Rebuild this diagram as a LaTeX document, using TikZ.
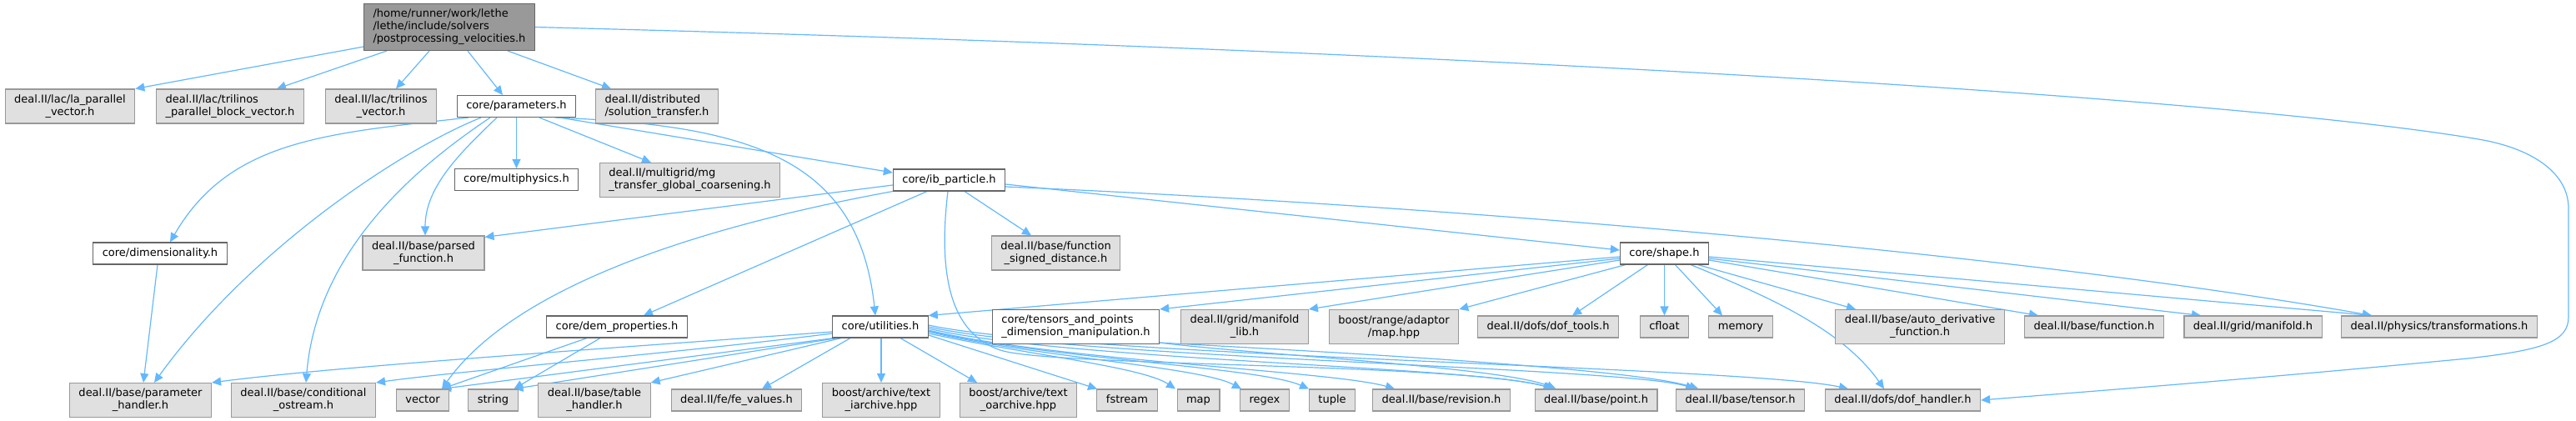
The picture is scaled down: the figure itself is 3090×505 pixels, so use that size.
\documentclass[tikz,border=0pt]{standalone}
\usepackage{fontspec}
\setmainfont{DejaVu Sans}
\usetikzlibrary{arrows.meta,backgrounds}
\definecolor{edgec}{HTML}{63B8FF}
\definecolor{gfill}{HTML}{E0E0E0}
\definecolor{gdraw}{HTML}{999999}
\definecolor{wdraw}{HTML}{666666}
\definecolor{rfill}{HTML}{999999}
\begin{document}
\begin{tikzpicture}[x=1pt,y=-1pt,
 box/.style={draw, line width=1.1pt, inner xsep=11pt, inner ysep=0pt, minimum height=26pt, font=\fontsize{13}{15}\selectfont, align=center, text=black},
 sl/.style={text height=9.5pt, text depth=3pt},
 tall/.style={minimum height=41pt},
 g1/.style={box, fill=gfill, draw=gdraw, sl},
 g2/.style={box, fill=gfill, draw=gdraw, tall},
 w1/.style={box, fill=white, draw=wdraw, sl},
 w2/.style={box, fill=white, draw=wdraw, tall},
 rbox/.style={box, fill=rfill, draw=wdraw, align=left, minimum height=56pt},
 lal/.style={align=left},
 arr/.style={draw=edgec, line width=1.2pt, -{Triangle[length=11pt,width=10pt]}}
]
\useasboundingbox (0,0) rectangle (3090,505);
% row 0
\node[rbox] (root) at (539,32.5) {/home/runner/work/lethe\\/lethe/include/solvers\\/postprocessing\_velocities.h};
% row 1
\node[g2] (lapar) at (84,127.5) {deal.II/lac/la\_parallel\\\_vector.h};
\node[g2,lal] (tripbv) at (276,127.5) {deal.II/lac/trilinos\\\_parallel\_block\_vector.h};
\node[g2] (trivec) at (457,127.5) {deal.II/lac/trilinos\\\_vector.h};
\node[w1] (params) at (619.5,127.5) {core/parameters.h};
\node[g2,lal] (soltrans) at (788,127.5) {deal.II/distributed\\/solution\_transfer.h};
% row 2
\node[w1] (multiph) at (619.5,215.5) {core/multiphysics.h};
\node[g2,lal] (mgtrans) at (827.5,216) {deal.II/multigrid/mg\\\_transfer\_global\_coarsening.h};
\node[w1] (ibpart) at (1138.5,216) {core/ib\_particle.h};
% row 3
\node[w1] (dimens) at (192,304) {core/dimensionality.h};
\node[g2] (parsedfn) at (508,303.5) {deal.II/base/parsed\\\_function.h};
\node[g2] (fsd) at (1266.5,303.5) {deal.II/base/function\\\_signed\_distance.h};
\node[w1] (shape) at (1996.5,304) {core/shape.h};
% row 4
\node[w1] (dem) at (740,392) {core/dem\_properties.h};
\node[w1] (utils) at (1056,392) {core/utilities.h};
\node[w2,lal] (tensdim) at (1290.5,392) {core/tensors\_and\_points\\\_dimension\_manipulation.h};
\node[g2] (manlib) at (1493,392) {deal.II/grid/manifold\\\_lib.h};
\node[g2] (rangemap) at (1672,392) {boost/range/adaptor\\/map.hpp};
\node[g1] (doftools) at (1857,392) {deal.II/dofs/dof\_tools.h};
\node[g1] (cfloat) at (1996.5,392) {cfloat};
\node[g1] (memory) at (2088,392) {memory};
\node[g2] (autoder) at (2303,392) {deal.II/base/auto\_derivative\\\_function.h};
\node[g1] (funch) at (2512,392) {deal.II/base/function.h};
\node[g1] (gridman) at (2702.5,392) {deal.II/grid/manifold.h};
\node[g1] (transf) at (2926,392) {deal.II/physics/transformations.h};
% row 5
\node[g2] (parhand) at (168.5,480) {deal.II/base/parameter\\\_handler.h};
\node[g2] (condos) at (364,480) {deal.II/base/conditional\\\_ostream.h};
\node[g1] (vector) at (507,480) {vector};
\node[g1] (string) at (591.5,480) {string};
\node[g2] (tablehand) at (713,480) {deal.II/base/table\\\_handler.h};
\node[g1] (fevalues) at (883.5,480) {deal.II/fe/fe\_values.h};
\node[g2] (iarch) at (1057,480) {boost/archive/text\\\_iarchive.hpp};
\node[g2] (oarch) at (1221.5,480) {boost/archive/text\\\_oarchive.hpp};
\node[g1] (fstream) at (1352,480) {fstream};
\node[g1] (map) at (1437.5,480) {map};
\node[g1] (regex) at (1517,480) {regex};
\node[g1] (tuple) at (1598,480) {tuple};
\node[g1] (revision) at (1729,480) {deal.II/base/revision.h};
\node[g1] (point) at (1914.5,480) {deal.II/base/point.h};
\node[g1] (tensor) at (2087.5,480) {deal.II/base/tensor.h};
\node[g1] (dofh) at (2282.5,480) {deal.II/dofs/dof\_handler.h};

\begin{scope}[on background layer]
% root edges
\draw[arr] ([yshift=5pt]root.south west) -- (lapar.north east);
\draw[arr] ([xshift=-75pt]root.south) -- ([xshift=56pt]tripbv.north);
\draw[arr] ([xshift=-24pt]root.south) -- ([xshift=18pt]trivec.north);
\draw[arr] ([xshift=22pt]root.south) -- ([xshift=-16.5pt]params.north);
\draw[arr] ([xshift=70pt]root.south) -- ([xshift=-55pt]soltrans.north);
\draw[arr] (root.east) .. controls (1800,62) and (2700,120) .. (2973,167) .. controls (3033,177) and (3081,205) .. (3081,250) -- (3081,380) .. controls (3081,410) and (3050,420) .. (2960,430) .. controls (2700,455) and (2500,470) .. (dofh.east);
% params edges
\draw[arr] ([xshift=-57.5pt]params.south) .. controls (390,160) and (275,168) .. ([xshift=12pt]dimens.north);
\draw[arr] ([xshift=-42.5pt]params.south) .. controls (480,180) and (300,300) .. ([xshift=16.5pt]parhand.north);
\draw[arr] ([xshift=-31.5pt]params.south) .. controls (500,200) and (380,300) .. ([xshift=3pt]condos.north);
\draw[arr] ([xshift=-23.5pt]params.south) .. controls (550,185) and (510,225) .. ([xshift=2pt]parsedfn.north);
\draw[arr] (params) -- (multiph);
\draw[arr] ([xshift=27.5pt]params.south) -- ([xshift=-46.5pt]mgtrans.north);
\draw[arr] ([xshift=52pt]params.south) -- ([yshift=9pt]ibpart.west);
\draw[arr] ([xshift=46pt]params.south) .. controls (900,150) and (1030,190) .. ([xshift=-6pt]utils.north);
% dimensionality
\draw[arr] ([xshift=-3pt]dimens.south) -- ([xshift=3.5pt]parhand.north);
% ib_particle
\draw[arr] ([yshift=-6pt]ibpart.west) -- ([yshift=-2pt]parsedfn.north east);
\draw[arr] (ibpart.south west) .. controls (850,270) and (620,340) .. ([xshift=23pt]vector.north);
\draw[arr] ([xshift=-26.5pt]ibpart.south) -- ([xshift=32pt]dem.north);
\draw[arr] ([xshift=18.5pt]ibpart.south) -- ([xshift=-29.5pt]fsd.north);
\draw[arr] ([xshift=-1.5pt]ibpart.south) .. controls (1125,330) and (1140,400) .. (1200,420) .. controls (1260,440) and (1750,435) .. ([xshift=-50pt]point.north);
\draw[arr] ([yshift=-5pt]ibpart.east) -- ([yshift=4pt]shape.west);
\draw[arr] ([yshift=-8pt]ibpart.east) .. controls (1700,245) and (2400,300) .. ([xshift=-81pt]transf.north);
% dem_properties
\draw[arr] ([xshift=-36pt]dem.south) -- ([xshift=23pt]vector.north);
\draw[arr] ([xshift=-20pt]dem.south) -- ([xshift=25pt]string.north);
% utilities
\draw[arr] ([yshift=-6pt]utils.west) .. controls (700,420) and (400,440) .. (parhand.north east);
\draw[arr] ([yshift=-8pt]utils.west) .. controls (800,425) and (550,445) .. (condos.north east);
\draw[arr] ([xshift=2pt]utils.south west) -- ([xshift=23pt]vector.north);
\draw[arr] ([xshift=6pt]utils.south west) -- ([xshift=25pt]string.north);
\draw[arr] ([xshift=-47pt]utils.south) -- (tablehand.north east);
\draw[arr] ([xshift=-36pt]utils.south) -- ([xshift=30.5pt]fevalues.north);
\draw[arr] ([xshift=1pt]utils.south) -- (iarch.north);
\draw[arr] ([xshift=24pt]utils.south) -- ([xshift=-49.5pt]oarch.north);
\draw[arr] ([yshift=-10pt]utils.east) -- ([xshift=-36pt]fstream.north);
\draw[arr] ([yshift=-8pt]utils.east) .. controls (1230,425) and (1370,440) .. ([xshift=-27.5pt]map.north);
\draw[arr] ([yshift=-6pt]utils.east) .. controls (1240,428) and (1440,440) .. ([xshift=-28pt]regex.north);
\draw[arr] ([yshift=-5pt]utils.east) .. controls (1250,430) and (1510,440) .. ([xshift=-28pt]tuple.north);
\draw[arr] ([yshift=-4pt]utils.east) .. controls (1260,432) and (1600,445) .. ([xshift=-56pt]revision.north);
\draw[arr] ([yshift=-2pt]utils.east) .. controls (1270,432) and (1780,440) .. ([xshift=-52pt]point.north);
\draw[arr] (utils.east) .. controls (1280,430) and (1950,440) .. ([xshift=-54.5pt]tensor.north);
\draw[arr] ([yshift=2pt]utils.east) .. controls (1290,428) and (2100,440) .. ([xshift=-65.5pt]dofh.north);
% tensors_and_points
\draw[arr] ([yshift=2pt]tensdim.south east) .. controls (1500,425) and (1800,440) .. ([xshift=-48pt]point.north);
\draw[arr] ([yshift=2pt]tensdim.south east) .. controls (1550,420) and (1950,440) .. ([xshift=-50pt]tensor.north);
% shape
\draw[arr] ([yshift=-4pt]shape.west) -- (utils.north east);
\draw[arr] ([yshift=-6pt]shape.west) -- (tensdim.north east);
\draw[arr] ([yshift=-8pt]shape.west) -- (manlib.north east);
\draw[arr] ([xshift=-46.5pt]shape.south) -- (rangemap.north east);
\draw[arr] ([xshift=-20pt]shape.south) -- ([xshift=29pt]doftools.north);
\draw[arr] (shape) -- (cfloat);
\draw[arr] ([xshift=13pt]shape.south) -- ([xshift=-22pt]memory.north);
\draw[arr] ([xshift=40pt]shape.south) -- ([xshift=-77pt]autoder.north);
\draw[arr] ([yshift=-8pt]shape.east) -- ([xshift=-67pt]funch.north);
\draw[arr] ([yshift=-6pt]shape.east) -- ([xshift=-62.5pt]gridman.north);
\draw[arr] ([yshift=-4pt]shape.east) -- ([xshift=-81pt]transf.north);
\draw[arr] ([xshift=31.5pt]shape.south) .. controls (2120,355) and (2210,395) .. ([xshift=-22.5pt]dofh.north);
\end{scope}
\end{tikzpicture}
\end{document}
